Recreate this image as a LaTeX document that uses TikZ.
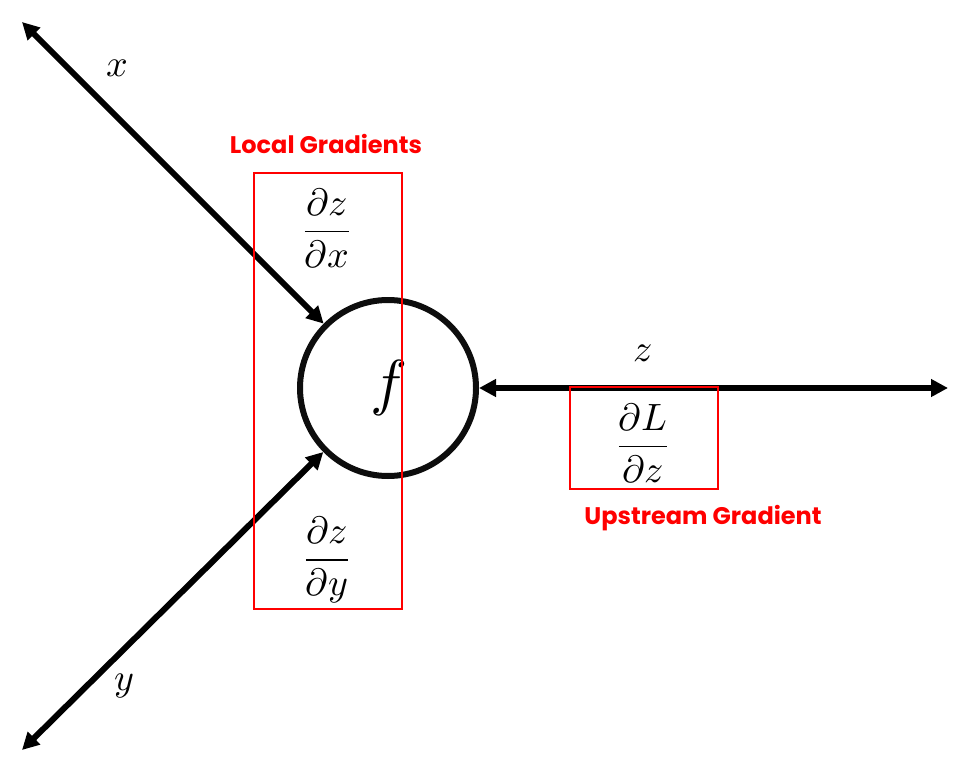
\documentclass[tikz,border=0pt]{standalone}
\usepackage{amsmath}
\usepackage{fontspec}
\usepackage{unicode-math}
\setmathfont{Latin Modern Math}
\newfontfamily\labelfont{Poppins}
\usetikzlibrary{positioning,arrows.meta}

\begin{document}
\begin{tikzpicture}[
        x=1pt, y=-1pt,
        node/.style={circle, draw=black!95, line width=6pt, minimum size=176pt, inner sep=0pt},
        edge/.style={line width=6pt, {Triangle[length=17pt,width=17pt]}-{Triangle[length=17pt,width=17pt]}},
        varlabel/.style={font=\fontsize{38}{42}\selectfont},
        fraclabel/.style={font=\fontsize{38}{44}\selectfont},
        gradbox/.style={draw=red, line width=1.6pt, inner sep=0pt},
        redlabel/.style={text=red, font=\labelfont\bfseries\fontsize{24}{28}\selectfont}
    ]
    \useasboundingbox (0,0) rectangle (968,770);

    % --- Gate ---
    \node[node, font=\fontsize{62}{64}\selectfont] (f) at (388,388) {$f$};

    % --- Inputs and output ---
    \coordinate (xend) at (22,22);
    \coordinate (yend) at (22,750);
    \coordinate (zend) at (948,388);
    \draw[edge] (xend) -- (f);
    \draw[edge] (yend) -- (f);
    \draw[edge] (f) -- (zend);

    \node[varlabel] (xlab) at (117,68) {$x$};
    \node[varlabel] (ylab) at (124,686) {$y$};
    \node[varlabel] (zlab) at (643,353) {$z$};

    % --- Local gradients ---
    \node[gradbox, minimum width=148pt, minimum height=436pt] (localbox) at (328,391) {};
    \node[redlabel] (localtitle) at (326,144) {Local Gradients};
    \node[fraclabel] (dzdx) at (327,228) {$\dfrac{\partial z}{\partial x}$};
    \node[fraclabel] (dzdy) at (327,560) {$\dfrac{\partial z}{\partial y}$};

    % --- Upstream gradient ---
    \node[gradbox, minimum width=148pt, minimum height=102pt] (upbox) at (644,438) {};
    \node[fraclabel] (dLdz) at (643,443) {$\dfrac{\partial L}{\partial z}$};
    \node[redlabel] (uptitle) at (703,518) {Upstream Gradient};

\end{tikzpicture}
\end{document}
